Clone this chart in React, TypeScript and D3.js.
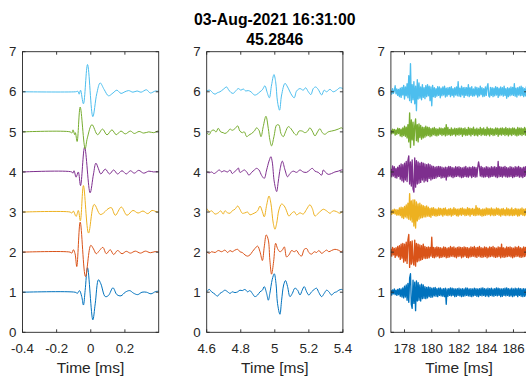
import React from 'react';
import * as d3 from 'd3';

// ---------- data ----------
const TITLE_LINES = ['03-Aug-2021 16:31:00', '45.2846'];
const X_LABEL = 'Time [ms]';
const COLORS = ['#0072BD', '#D95319', '#EDB120', '#7E2F8E', '#77AC30', '#4DBEEE'];
const OFFSETS = [1, 2, 3, 4, 5, 6];
const Y_TICKS = [0, 1, 2, 3, 4, 5, 6, 7];
const Y_LIM = [0, 7];
const P1_XLIM = [-0.4, 0.398];
const P2_XLIM = [4.6, 5.4];
const P3_XLIM = [177, 187];
const P1_XTICKS = [-0.4, -0.2, 0, 0.2];
const P2_XTICKS = [4.6, 4.8, 5, 5.2, 5.4];
const P3_XTICKS = [178, 180, 182, 184, 186];

// Panel 1: [time ms, deviation from trace offset]
const p1Trace1 = [[-0.4,0],[-0.092,0],[-0.078,-0.025],[-0.066,0.04],[-0.053,-0.11],[-0.043,-0.32],[-0.033,0.04],[-0.019,0.61],[0.012,-0.69],[0.026,-0.29],[0.045,0.31],[0.059,0.21],[0.085,-0.11],[0.104,-0.08],[0.13,0.11],[0.153,-0.06],[0.177,-0.09],[0.202,0],[0.228,0.04],[0.251,-0.025],[0.275,-0.06],[0.3,0],[0.326,0],[0.353,-0.04],[0.379,0.015],[0.398,0.025]];
const p1Trace2 = [[-0.4,0],[-0.121,0],[-0.111,-0.025],[-0.102,0.06],[-0.092,-0.04],[-0.082,-0.36],[-0.062,0.75],[-0.031,-0.61],[0.0,0.17],[0.016,0.08],[0.032,-0.04],[0.051,0.04],[0.071,0.12],[0.091,-0.04],[0.114,0.06],[0.134,-0.06],[0.157,0.04],[0.183,-0.04],[0.208,0.02],[0.232,-0.025],[0.261,0.025],[0.291,-0.025],[0.32,0.025],[0.349,-0.015],[0.379,0.015],[0.398,0]];
const p1Trace3 = [[-0.4,0],[-0.121,0],[-0.111,-0.025],[-0.102,0.025],[-0.086,-0.11],[-0.073,0.04],[-0.061,-0.22],[-0.043,0.66],[-0.013,-0.525],[0.02,0.19],[0.055,-0.06],[0.075,-0.025],[0.095,0.06],[0.12,0.11],[0.144,-0.08],[0.179,0.125],[0.212,-0.08],[0.247,0.04],[0.277,-0.025],[0.306,0.025],[0.334,-0.04],[0.359,0.04],[0.389,0],[0.398,0]];
const p1Trace4 = [[-0.4,0],[-0.111,0],[-0.105,-0.03],[-0.098,0.03],[-0.086,-0.13],[-0.073,0.0],[-0.06,-0.34],[-0.036,0.62],[-0.004,-0.52],[0.016,-0.05],[0.03,0.22],[0.045,0.08],[0.059,-0.05],[0.085,0.07],[0.11,-0.05],[0.134,0.05],[0.157,-0.05],[0.183,0.03],[0.208,-0.05],[0.232,0.03],[0.255,-0.03],[0.281,0.04],[0.31,-0.03],[0.34,0.02],[0.369,0],[0.389,0.01],[0.398,0.01]];
const p1Trace5 = [[-0.4,0],[-0.121,0],[-0.111,-0.03],[-0.104,0.05],[-0.094,-0.07],[-0.09,-0.02],[-0.08,-0.24],[-0.062,0.62],[-0.033,-0.42],[-0.02,-0.15],[0.007,0.18],[0.04,-0.07],[0.069,0.07],[0.095,-0.075],[0.124,0.05],[0.149,-0.07],[0.177,0.02],[0.202,-0.05],[0.232,0.02],[0.255,-0.04],[0.283,0.01],[0.31,-0.03],[0.34,0],[0.369,-0.02],[0.393,0.02],[0.398,0.01]];
const p1Trace6 = [[-0.4,0],[-0.09,0],[-0.075,0.01],[-0.068,-0.06],[-0.06,0.04],[-0.043,-0.3],[-0.019,0.68],[0.012,-0.62],[0.035,-0.05],[0.055,0.22],[0.078,0.06],[0.104,-0.1],[0.13,-0.03],[0.153,0.04],[0.177,-0.04],[0.2,0.0],[0.222,0.03],[0.247,-0.01],[0.271,0.02],[0.295,-0.01],[0.326,0.05],[0.349,-0.03],[0.379,0.02],[0.398,0.01]];

// Panel 2: [time ms, deviation from trace offset]
const p2Trace1 = [[4.6,0.01],[4.615,0.07],[4.629,0.01],[4.649,-0.05],[4.662,-0.1],[4.678,-0.03],[4.693,0.01],[4.707,0.05],[4.723,0.01],[4.737,-0.03],[4.75,0.01],[4.766,-0.01],[4.782,0.01],[4.795,0.05],[4.809,0.04],[4.825,0.07],[4.84,0.01],[4.854,0.04],[4.868,-0.03],[4.883,-0.11],[4.899,-0.07],[4.913,0.01],[4.927,0.05],[4.938,0.14],[4.952,-0.03],[4.962,-0.2],[4.971,-0.03],[4.985,0.32],[4.997,0.46],[5.007,0.22],[5.016,-0.28],[5.03,-0.55],[5.04,-0.2],[5.052,0.18],[5.063,0.29],[5.075,0.14],[5.089,-0.11],[5.103,-0.03],[5.118,0.1],[5.134,0.05],[5.148,-0.07],[5.161,0.05],[5.173,0.14],[5.187,0.01],[5.2,-0.07],[5.216,0.01],[5.232,0.07],[5.245,0.1],[5.259,-0.01],[5.275,-0.11],[5.29,-0.03],[5.304,0.05],[5.318,0.01],[5.333,-0.07],[5.349,-0.01],[5.363,0.01],[5.376,0.05],[5.392,0.07],[5.4,0.05]];
const p2Trace2 = [[4.6,0.01],[4.615,-0.03],[4.629,0.01],[4.649,-0.01],[4.668,0.04],[4.688,0.01],[4.707,0.05],[4.723,-0.01],[4.737,0.04],[4.75,0.01],[4.766,0.05],[4.782,0.07],[4.795,0.01],[4.809,-0.01],[4.825,-0.07],[4.84,-0.1],[4.854,-0.07],[4.868,0.01],[4.883,0.09],[4.899,0.15],[4.913,0.01],[4.927,-0.21],[4.938,0.13],[4.95,0.43],[4.962,0.3],[4.971,-0.2],[4.981,-0.55],[4.993,-0.24],[5.005,0.22],[5.016,0.09],[5.03,0.01],[5.044,0.05],[5.056,0.13],[5.069,-0.12],[5.083,-0.07],[5.099,0.04],[5.114,0.01],[5.128,0.04],[5.142,-0.05],[5.157,-0.1],[5.173,0.07],[5.187,0.09],[5.2,-0.01],[5.216,-0.05],[5.232,0.01],[5.245,-0.01],[5.259,0.04],[5.275,-0.03],[5.29,0.01],[5.304,0.05],[5.318,0.01],[5.333,0.04],[5.353,0.07],[5.373,0.05],[5.392,0.01],[5.4,0.04]];
const p2Trace3 = [[4.6,0.09],[4.615,0.01],[4.629,0.03],[4.649,-0.05],[4.668,-0.02],[4.682,0.03],[4.697,-0.05],[4.707,0.03],[4.723,-0.02],[4.737,-0.03],[4.75,0.03],[4.766,0.07],[4.782,0.15],[4.795,0.07],[4.809,-0.03],[4.825,-0.02],[4.84,0],[4.854,-0.07],[4.868,-0.05],[4.883,-0.02],[4.899,0.03],[4.913,0.15],[4.927,0.01],[4.938,-0.12],[4.952,0.17],[4.966,0.4],[4.977,0.22],[4.991,-0.28],[5.001,-0.43],[5.011,-0.28],[5.024,0.05],[5.04,0.2],[5.056,0.15],[5.069,0.03],[5.083,-0.1],[5.099,-0.03],[5.114,0.01],[5.128,-0.07],[5.148,-0.02],[5.167,-0.05],[5.187,0.07],[5.206,0.18],[5.22,0.09],[5.236,-0.1],[5.251,-0.05],[5.271,0.03],[5.285,0.07],[5.304,0.03],[5.324,-0.03],[5.343,0.03],[5.363,0.01],[5.382,-0.03],[5.4,0.03]];
const p2Trace4 = [[4.6,0],[4.615,-0.02],[4.629,0],[4.643,-0.04],[4.658,0],[4.674,0.05],[4.688,0],[4.701,0.03],[4.723,0],[4.737,0.05],[4.75,-0.04],[4.762,0],[4.776,0.05],[4.786,0.1],[4.795,-0.01],[4.809,0.02],[4.821,0.05],[4.835,0],[4.848,-0.08],[4.864,-0.01],[4.88,0.05],[4.893,0.09],[4.907,0.05],[4.923,-0.09],[4.938,-0.16],[4.952,0.05],[4.966,0.27],[4.977,0.38],[4.985,0.25],[4.997,-0.25],[5.011,-0.49],[5.02,-0.25],[5.032,0.09],[5.044,0.27],[5.06,0.05],[5.075,-0.12],[5.089,-0.04],[5.108,0.02],[5.128,-0.01],[5.148,0.05],[5.167,0],[5.187,-0.01],[5.206,0.05],[5.22,0.09],[5.236,0.02],[5.255,-0.01],[5.275,-0.08],[5.285,0.05],[5.298,-0.01],[5.314,-0.06],[5.333,-0.04],[5.353,0],[5.373,0.02],[5.392,0.05],[5.4,0.05]];
const p2Trace5 = [[4.6,-0.025],[4.615,-0.065],[4.629,0.03],[4.643,0.045],[4.655,-0.005],[4.668,0.09],[4.682,0],[4.697,-0.02],[4.707,-0.04],[4.723,0],[4.737,0.07],[4.75,0.04],[4.766,0.08],[4.782,0.15],[4.795,0.02],[4.809,-0.02],[4.821,0],[4.835,-0.12],[4.848,-0.08],[4.864,-0.04],[4.88,0.02],[4.893,0.1],[4.907,0.04],[4.919,-0.12],[4.932,0.13],[4.948,0.39],[4.962,0.08],[4.971,-0.2],[4.981,-0.35],[4.995,-0.12],[5.011,0.17],[5.024,0.17],[5.036,-0.04],[5.05,-0.12],[5.063,0],[5.079,0.13],[5.095,0.08],[5.114,-0.04],[5.128,-0.08],[5.142,0.02],[5.161,0.02],[5.177,-0.02],[5.193,0.02],[5.206,0.1],[5.22,0.02],[5.236,-0.1],[5.251,0],[5.265,0.08],[5.279,-0.02],[5.294,-0.06],[5.314,0],[5.333,0.02],[5.353,0.04],[5.373,0.07],[5.392,0.1],[5.4,0.07]];
const p2Trace6 = [[4.6,0.025],[4.619,0.04],[4.635,-0.025],[4.649,-0.06],[4.662,-0.025],[4.678,0],[4.697,0.06],[4.717,0.12],[4.727,0.06],[4.743,-0.02],[4.756,-0.04],[4.77,0.02],[4.786,0.08],[4.801,0.04],[4.815,0.07],[4.829,0.02],[4.844,0.03],[4.86,0],[4.88,-0.08],[4.893,-0.07],[4.913,0],[4.927,0.05],[4.942,0.15],[4.954,0],[4.968,-0.15],[4.981,0.17],[4.995,0.43],[5.005,0.25],[5.016,-0.25],[5.028,-0.46],[5.04,-0.08],[5.06,0.21],[5.075,0.12],[5.099,-0.08],[5.114,-0.15],[5.128,0.02],[5.148,0.08],[5.167,0.04],[5.181,0.1],[5.197,0],[5.212,-0.07],[5.226,0.08],[5.24,0.12],[5.255,0.06],[5.275,-0.08],[5.29,0.04],[5.304,0],[5.324,0.06],[5.343,0],[5.363,0.04],[5.382,0.1],[5.4,0.08]];

// Panel 3: evenly sampled over 177–187 ms, deviations in units of 0.01
const p3Trace1 = [5,-7,6,-4,8,-6,5,-8,7,-6,9,-10,8,-12,11,-14,15,-12,18,-20,
22,-25,35,46,-30,-40,30,-28,25,-46,28,-22,24,-20,18,-22,20,-16,18,-15,
14,-16,12,-14,13,-11,12,-13,10,-12,11,-9,12,-10,9,-11,10,-8,11,-9,
8,-10,9,-11,10,-30,8,-10,9,-8,11,-9,10,-8,9,-11,8,-10,9,-8,
10,-9,8,-11,9,-10,8,-9,11,-8,10,-9,8,-10,9,-11,8,-9,10,-8,
9,-10,8,-11,9,-8,10,-9,11,-8,9,-10,8,-9,10,-11,9,-8,10,-9,
8,-10,9,-8,11,-9,10,-8,9,-11,8,-10,9,-8,10,-9,11,-8,9,-10,
8,-9,10,-11,8,-9,10,-8,9,-11,10,-8,9,-10,8,-11,9,-10,8,-9,10];
const p3Trace2 = [8,-10,12,-7,9,-13,11,-9,14,-12,16,-18,20,-15,22,-25,20,-22,25,-28,
30,44,-38,26,-30,28,-25,-32,30,-35,22,-24,20,-22,18,-20,16,-18,20,-15,
14,-16,12,-15,13,-14,12,-10,37,-13,12,-14,11,-12,13,-10,12,-14,11,-13,
10,-12,13,-11,12,-14,10,-13,11,-12,14,-10,12,-11,13,-12,10,-14,12,-11,
13,-10,12,-14,11,-12,13,-10,12,-13,11,-14,10,-12,13,-11,12,-10,14,-12,
11,-13,12,-10,14,-12,11,-13,10,-12,13,-11,12,-14,10,-12,13,-11,12,-10,
14,-12,11,-13,10,-12,13,-11,12,-14,20,-12,11,-13,10,-12,13,-11,12,-10,
13,-12,11,-14,10,-12,13,-11,12,-10,14,-12,11,-13,10,-12,13,-11,12,-10,13];
const p3Trace3 = [4,-6,5,-3,7,-5,6,-8,5,-7,10,-9,12,-14,11,-16,14,-12,18,-15,
22,-18,46,-20,28,-25,30,-35,30,-40,25,-22,20,-18,22,-15,18,-14,16,-12,
14,-12,15,-10,12,-11,9,-13,10,-8,11,-9,8,-10,7,-9,10,-8,9,-7,
8,-10,9,-7,10,-8,6,-9,8,-7,9,-10,7,-8,11,-6,8,-9,7,-10,
8,-7,9,-8,10,-6,8,-9,7,-8,11,-7,9,-10,8,-6,9,-8,7,-9,
16,-8,10,-7,9,-8,6,-10,8,-9,7,-8,10,-7,9,-6,8,-9,10,-7,
8,-9,7,-8,10,-6,9,-8,7,-10,8,-7,9,-8,6,-9,10,-7,8,-9,
7,-8,10,-9,6,-8,9,-7,8,-10,7,-9,8,-6,10,-8,7,-9,8,-7,9];
const p3Trace4 = [8,-12,15,-10,13,-14,9,-15,12,-11,16,-18,20,-22,18,-25,22,-20,26,-24,
28,40,-30,25,-35,30,-42,-50,35,-38,28,-30,25,-28,22,-26,24,-20,22,-25,
20,-22,18,-24,20,-16,18,-20,15,-17,14,-16,12,-15,13,-12,14,-11,13,-15,
12,-14,10,-13,12,-20,11,-12,14,-10,13,-12,11,-14,10,-12,13,-11,12,-10,
13,-12,11,-14,10,-13,12,-11,14,-12,10,-13,12,-10,11,-14,13,-11,12,-13,
11,-12,11,25,12,-10,14,-12,11,-13,10,-12,13,-11,12,-14,10,-12,13,-11,
12,-10,13,-12,11,-14,26,-12,13,-11,12,-13,12,-10,14,-12,11,-13,10,-12,
13,-11,12,-14,10,-12,13,-11,12,-10,14,-13,11,-12,10,-14,12,-11,13,-10,12];
const p3Trace5 = [4,-5,7,-3,6,-8,5,-6,9,-4,8,-10,7,-12,10,-9,14,-11,12,-15,
18,-25,47,-39,30,-20,24,-33,15,32,-22,18,-25,20,-14,16,-18,12,-15,11,
-13,14,-10,12,-9,11,-12,8,-10,9,-7,11,-9,8,-10,7,-8,10,-6,9,
-9,8,-7,10,-10,18,-8,11,-7,6,-9,10,-8,7,-6,9,-10,8,-7,9,
-8,10,-6,9,-11,8,-7,10,-9,6,-8,11,-7,9,-10,8,-6,12,-9,7,
-8,9,-10,7,-6,11,-9,8,-7,10,-8,6,-9,12,-7,8,-10,9,-6,8,
-9,7,-8,10,-6,9,-11,8,-7,9,-8,10,-6,8,-9,11,-7,8,-10,9,
-7,8,-9,10,-6,9,-8,7,-10,11,-8,9,-7,10,-9,8,-6,11,-8,9,-7];
const p3Trace6 = [3,-6,8,-4,2,15,-5,7,-9,6,-12,9,-14,11,-8,16,-18,12,-10,20,
-15,40,-22,70,-27,18,-20,25,-30,14,-47,30,-18,22,-16,12,-20,18,-14,10,
-17,15,-12,18,-10,14,-22,12,-35,16,-12,10,-14,8,-11,13,-9,12,-15,9,
-10,12,-8,14,-13,9,-11,10,-7,11,-12,13,-9,8,-13,10,-8,12,-10,25,
-11,9,-12,14,-8,10,-14,11,-9,10,-10,18,-12,10,-9,13,-11,7,-10,12,
-8,11,-13,9,-10,14,-7,10,-12,8,-11,12,-9,12,20,-10,-13,11,-9,10,
-12,9,-10,13,-8,11,-14,9,-10,12,-8,10,-11,14,-9,8,-16,10,-12,9,
-10,12,-8,11,-9,20,-11,9,-13,10,-8,12,-10,14,-9,11,-12,8,-10,12,-7];

const P1_TRACES = [p1Trace1, p1Trace2, p1Trace3, p1Trace4, p1Trace5, p1Trace6];
const P2_TRACES = [p2Trace1, p2Trace2, p2Trace3, p2Trace4, p2Trace5, p2Trace6];
const P3_TRACES = [p3Trace1, p3Trace2, p3Trace3, p3Trace4, p3Trace5, p3Trace6];

// ---------- layout ----------
const W = 526;
const H = 376;
const Y_TOP = 51.7;
const Y_BOT = 332.3;
const PANEL_W = 136.2;
const PANEL_X = [22.5, 206.7, 390.9];
const AXIS_COLOR = '#262626';
const FONT = '"Liberation Sans", Arial, Helvetica, sans-serif';
const TICK_LEN = 3;

function fmt(v: number) {
  const r = Math.round(v * 1000) / 1000;
  return String(r);
}

type PanelProps = {
  idx: number;
  xlim: number[];
  xticks: number[];
  series: number[][][];
  smooth: boolean;
  lineWidth: number;
};

function Panel({ idx, xlim, xticks, series, smooth, lineWidth }: PanelProps) {
  const x0 = PANEL_X[idx];
  const x1 = x0 + PANEL_W;
  const xs = d3.scaleLinear().domain(xlim).range([x0, x1]);
  const ys = d3.scaleLinear().domain(Y_LIM).range([Y_BOT, Y_TOP]);
  const clipId = `clip-${idx}`;
  return (
    <g>
      <defs>
        <clipPath id={clipId}>
          <rect x={x0} y={Y_TOP} width={PANEL_W} height={Y_BOT - Y_TOP} />
        </clipPath>
      </defs>
      <g clipPath={`url(#${clipId})`}>
        {series.map((pts, i) => {
          const off = OFFSETS[i];
          const line = d3
            .line<number[]>()
            .x((d) => xs(d[0]))
            .y((d) => ys(off + d[1]))
            .curve(smooth ? d3.curveCatmullRom.alpha(0.5) : d3.curveLinear);
          return (
            <path
              key={i}
              d={line(pts) || ''}
              fill="none"
              stroke={COLORS[i]}
              strokeWidth={lineWidth}
              strokeLinejoin="round"
            />
          );
        })}
      </g>
      <rect x={x0} y={Y_TOP} width={PANEL_W} height={Y_BOT - Y_TOP} fill="none" stroke={AXIS_COLOR} strokeWidth={0.9} />
      {xticks.map((t) => (
        <g key={'xt' + t}>
          <line x1={xs(t)} x2={xs(t)} y1={Y_BOT} y2={Y_BOT - TICK_LEN} stroke={AXIS_COLOR} strokeWidth={0.9} />
          <line x1={xs(t)} x2={xs(t)} y1={Y_TOP} y2={Y_TOP + TICK_LEN} stroke={AXIS_COLOR} strokeWidth={0.9} />
          <text x={xs(t)} y={352.5} textAnchor="middle" fontSize={13.3} fill={AXIS_COLOR} fontFamily={FONT}>
            {fmt(t)}
          </text>
        </g>
      ))}
      {Y_TICKS.map((t) => (
        <g key={'yt' + t}>
          <line x1={x0} x2={x0 + TICK_LEN} y1={ys(t)} y2={ys(t)} stroke={AXIS_COLOR} strokeWidth={0.9} />
          <line x1={x1} x2={x1 - TICK_LEN} y1={ys(t)} y2={ys(t)} stroke={AXIS_COLOR} strokeWidth={0.9} />
          <text x={x0 - 6} y={ys(t) + 4.7} textAnchor="end" fontSize={13.3} fill={AXIS_COLOR} fontFamily={FONT}>
            {t}
          </text>
        </g>
      ))}
      <text x={(x0 + x1) / 2} y={373.3} textAnchor="middle" fontSize={15.5} fill={AXIS_COLOR} fontFamily={FONT}>
        {X_LABEL}
      </text>
    </g>
  );
}

export default function App() {
  const p3Series = P3_TRACES.map((vals) => {
    const ts = d3.scaleLinear().domain([0, vals.length - 1]).range(P3_XLIM);
    return vals.map((v, i) => [ts(i), v / 100]);
  });
  const titleX = PANEL_X[1] + PANEL_W / 2;
  return (
    <svg
      width={W}
      height={H}
      viewBox={`0 0 ${W} ${H}`}
      style={{ position: 'absolute', left: 0, top: 0, background: '#fff' }}
    >
      <rect x={0} y={0} width={W} height={H} fill="#fff" />
      <Panel idx={0} xlim={P1_XLIM} xticks={P1_XTICKS} series={P1_TRACES} smooth={true} lineWidth={1} />
      <Panel idx={1} xlim={P2_XLIM} xticks={P2_XTICKS} series={P2_TRACES} smooth={true} lineWidth={1} />
      <Panel idx={2} xlim={P3_XLIM} xticks={P3_XTICKS} series={p3Series} smooth={false} lineWidth={1.35} />
      <text x={titleX} y={25} textAnchor="middle" fontSize={15.8} fontWeight="bold" fill="#000" fontFamily={FONT}>
        {TITLE_LINES[0]}
      </text>
      <text x={titleX} y={45} textAnchor="middle" fontSize={15.8} fontWeight="bold" fill="#000" fontFamily={FONT}>
        {TITLE_LINES[1]}
      </text>
    </svg>
  );
}
